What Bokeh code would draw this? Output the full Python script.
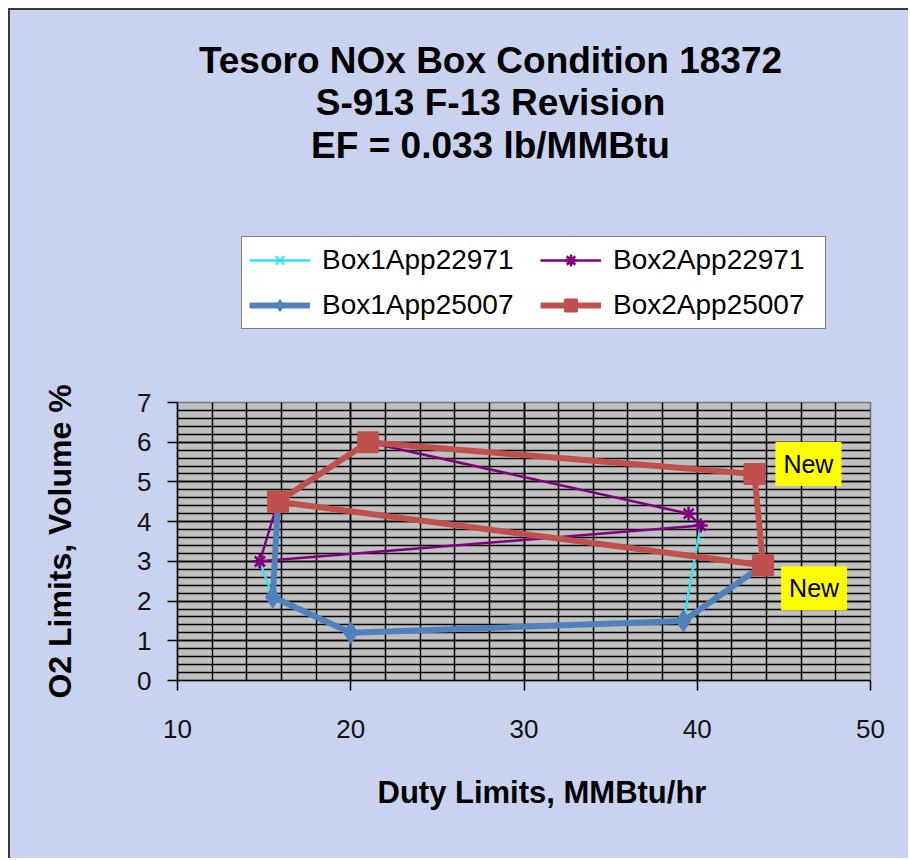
from bokeh.plotting import figure
from bokeh.layouts import column
from bokeh.models import (Label, Legend, LegendItem, SingleIntervalTicker, Range1d, Title)
from bokeh.embed import file_html
from bokeh.resources import INLINE

# ---------------- data ----------------
title_lines = ["Tesoro NOx Box Condition 18372", "S-913 F-13 Revision", "EF = 0.033 lb/MMBtu"]
x_label = "Duty Limits, MMBtu/hr"
y_label = "O2 Limits, Volume %"

box1_22971_x = [40.2, 39.2, 20.0, 15.5, 14.75]
box1_22971_y = [3.9, 1.5, 1.2, 2.1, 3.0]

box2_22971_x = [14.75, 15.8, 21.0, 39.5, 40.2, 14.75]
box2_22971_y = [3.0, 4.5, 6.0, 4.2, 3.9, 3.0]

box1_25007_x = [15.8, 15.5, 20.0, 39.2, 43.8]
box1_25007_y = [4.5, 2.1, 1.2, 1.5, 2.9]

box2_25007_x = [15.8, 21.0, 43.3, 43.8, 15.8]
box2_25007_y = [4.5, 6.0, 5.2, 2.9, 4.5]

series_names = ["Box1App22971", "Box2App22971", "Box1App25007", "Box2App25007"]
legend_order = [0, 2, 1, 3]        # column-major filling -> rows: 1|2 and 3|4

note_text = "New"
note_point_index = [2, 3]          # notes attached to these Box2App25007 points
note_offsets = [(54, 10), (51, -23)]

x_ticks_interval = 10
y_ticks_interval = 1

FONT = "Liberation Sans"
BG = "#c9d2ee"

styles = [
    dict(x=box1_22971_x, y=box1_22971_y, color="#2ee6f0", lw=2.5, marker="x", size=12, mlw=2),
    dict(x=box2_22971_x, y=box2_22971_y, color="#800080", lw=2.5, marker="asterisk", size=14, mlw=2.5),
    dict(x=box1_25007_x, y=box1_25007_y, color="#4f81bd", lw=6, marker="diamond", size=22, mlw=1),
    dict(x=box2_25007_x, y=box2_25007_y, color="#c0504d", lw=6, marker="square", size=20, mlw=2),
]


def draw_series(fig, s):
    ln = fig.line(s["x"], s["y"], line_color=s["color"], line_width=s["lw"])
    mk = fig.scatter(s["x"], s["y"], marker=s["marker"], size=s["size"],
                     fill_color=s["color"], line_color=s["color"], line_width=s["mlw"])
    return ln, mk


# ---------------- top figure: titles + legend ----------------
top = figure(width=898, height=340, x_range=Range1d(100, 200), y_range=Range1d(100, 200),
             output_backend="svg", toolbar_location=None,
             x_axis_location=None, y_axis_location=None,
             min_border_left=0, min_border_right=0, min_border_top=0, min_border_bottom=0)
top.background_fill_color = BG
top.border_fill_color = BG
top.outline_line_color = None
top.xgrid.visible = False
top.ygrid.visible = False

proxy = []
for name, s in zip(series_names, styles):
    ln, mk = draw_series(top, s)   # legend proxies (outside the visible range)
    proxy.append(LegendItem(label=name, renderers=[ln, mk]))
legend_items = [proxy[i] for i in legend_order]

legend = Legend(items=legend_items, ncols=2, location=(64, 21))
legend.label_text_font = FONT
legend.label_text_font_size = "28px"
legend.label_text_color = "#000000"
legend.glyph_width = 61
legend.glyph_height = 30
legend.label_height = 30
legend.label_width = 205
legend.label_standoff = 12
legend.spacing = 13
legend.padding = 7
legend.margin = 0
legend.border_line_color = "#000000"
legend.border_line_width = 1
legend.background_fill_color = "#ffffff"
legend.background_fill_alpha = 1.0
top.add_layout(legend, "center")

for txt, yy in zip(title_lines, [290.5, 248.5, 205.5]):
    top.add_layout(Label(x=313, y=yy, x_units="screen", y_units="screen", text=txt,
                         text_font=FONT, text_font_size="37px", text_font_style="bold",
                         text_align="center", text_baseline="alphabetic", text_color="#000000"))

# ---------------- main figure ----------------
p = figure(width=898, height=508,
           x_range=Range1d(10, 50), y_range=Range1d(0, 7),
           output_backend="svg", toolbar_location=None,
           min_border_left=167, min_border_right=38,
           min_border_top=52, min_border_bottom=178)

p.background_fill_color = "#c0c0c0"
p.border_fill_color = BG
p.outline_line_color = "#7a7a7a"
p.outline_line_width = 1.5

xt = SingleIntervalTicker(interval=x_ticks_interval, num_minor_ticks=5)
yt = SingleIntervalTicker(interval=y_ticks_interval, num_minor_ticks=5)
p.xaxis.ticker = xt
p.yaxis.ticker = yt
p.xgrid.ticker = xt
p.ygrid.ticker = yt
for g in (p.xgrid, p.ygrid):
    g.grid_line_color = "#000000"
    g.grid_line_width = 1.5
    g.minor_grid_line_color = "#000000"
    g.minor_grid_line_width = 1.5

for ax in (p.xaxis, p.yaxis):
    ax.axis_line_color = "#000000"
    ax.axis_line_width = 1.5
    ax.major_tick_line_color = "#000000"
    ax.major_tick_line_width = 1.5
    ax.major_tick_out = 10
    ax.major_tick_in = 0
    ax.minor_tick_line_color = None
    ax.major_label_text_font = FONT
    ax.major_label_text_font_size = "26px"
    ax.major_label_text_color = "#111111"
p.xaxis.major_label_standoff = 29
p.yaxis.major_label_standoff = 16

p.yaxis.axis_label = y_label
p.yaxis.axis_label_text_font = FONT
p.yaxis.axis_label_text_font_size = "32px"
p.yaxis.axis_label_text_font_style = "bold"
p.yaxis.axis_label_text_color = "#000000"
p.yaxis.axis_label_standoff = 56

for s in styles:
    draw_series(p, s)

for idx, (dx, dy) in zip(note_point_index, note_offsets):
    p.add_layout(Label(x=box2_25007_x[idx], y=box2_25007_y[idx], x_offset=dx, y_offset=dy,
                       text=note_text, text_font=FONT, text_font_size="25px",
                       text_align="center", text_baseline="middle", text_color="#000000",
                       background_fill_color="#ffff00", background_fill_alpha=1.0, padding=8))

p.add_layout(Title(text=x_label, align="left", offset=200, standoff=65,
                   text_font=FONT, text_font_size="31px", text_font_style="bold",
                   text_color="#000000"), "below")

layout = column(top, p, spacing=0)
layout.styles = {"margin-left": "8px", "margin-top": "8px",
                 "border-top": "2px solid #3a3a3a", "border-left": "2px solid #3a3a3a",
                 "background-color": BG}

open("out.html", "w").write(file_html(layout, INLINE))
